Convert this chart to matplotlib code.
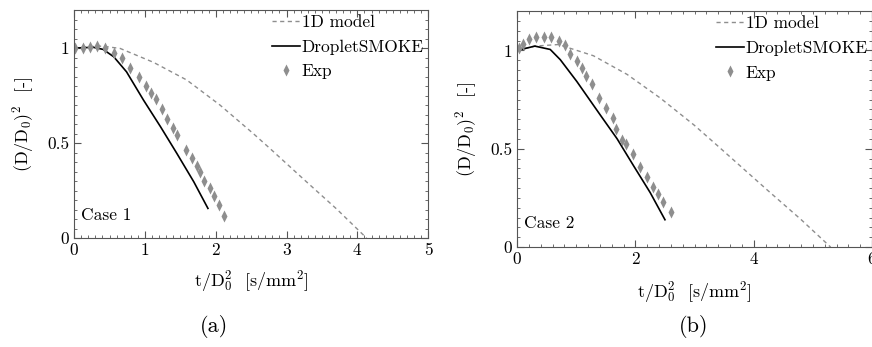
import matplotlib
matplotlib.use("Agg")
import matplotlib.pyplot as plt
from matplotlib.ticker import MultipleLocator, FormatStrFormatter

plt.rcParams['font.family'] = ['cmr10', 'DejaVu Serif']
plt.rcParams['mathtext.fontset'] = 'cm'
plt.rcParams['axes.formatter.use_mathtext'] = True

# ---- Case 1 ----
exp1_t = [0.01, 0.13, 0.23, 0.33, 0.43, 0.57, 0.68, 0.79, 0.91, 1.01, 1.08, 1.16, 1.24,
          1.31, 1.39, 1.46, 1.58, 1.67, 1.74, 1.78, 1.84, 1.92, 1.97, 2.05, 2.11]
exp1_d2 = [1.0, 1.0, 1.005, 1.01, 1.0, 0.972, 0.946, 0.897, 0.847, 0.80, 0.763, 0.73, 0.677,
           0.626, 0.581, 0.542, 0.462, 0.421, 0.381, 0.349, 0.30, 0.263, 0.221, 0.175, 0.116]
ds1_t = [0.0, 0.27, 0.41, 0.56, 0.74, 0.98, 1.22, 1.45, 1.69, 1.89]
ds1_d2 = [1.0, 1.004, 0.993, 0.954, 0.875, 0.726, 0.586, 0.446, 0.296, 0.156]
m1_t = [0.0, 0.2, 0.4, 0.65, 1.12, 1.59, 2.06, 2.53, 2.77, 3.24, 3.71, 4.13]
m1_d2 = [1.0, 1.008, 1.01, 0.998, 0.925, 0.832, 0.70, 0.55, 0.47, 0.31, 0.152, 0.0]

# ---- Case 2 ----
exp2_t = [0.04, 0.10, 0.20, 0.32, 0.45, 0.58, 0.70, 0.81, 0.90, 1.02, 1.09, 1.17, 1.26,
          1.38, 1.50, 1.62, 1.68, 1.78, 1.84, 1.96, 2.07, 2.20, 2.29, 2.38, 2.46, 2.61]
exp2_d2 = [1.01, 1.035, 1.058, 1.07, 1.07, 1.07, 1.048, 1.027, 0.981, 0.945, 0.912, 0.872, 0.831,
           0.757, 0.706, 0.655, 0.6, 0.547, 0.522, 0.472, 0.405, 0.355, 0.305, 0.271, 0.231, 0.176]
ds2_t = [0.0, 0.30, 0.56, 0.73, 1.01, 1.41, 1.69, 1.97, 2.25, 2.50]
ds2_d2 = [1.0, 1.022, 1.005, 0.953, 0.842, 0.67, 0.551, 0.413, 0.277, 0.139]
m2_t = [0.0, 0.3, 0.7, 1.29, 1.86, 2.42, 2.99, 3.39, 3.67, 4.23, 4.80, 5.30]
m2_d2 = [1.0, 1.022, 1.03, 0.973, 0.878, 0.758, 0.621, 0.515, 0.44, 0.29, 0.14, 0.0]

gray = '#8e8e8e'

fig = plt.figure(figsize=(8.72, 3.47), dpi=100)
ax1 = fig.add_axes([0.085, 0.314, 0.406, 0.657])
ax2 = fig.add_axes([0.593, 0.288, 0.407, 0.680])

panels = [
    (ax1, m1_t, m1_d2, ds1_t, ds1_d2, exp1_t, exp1_d2, 5, 1, 0.1, 'Case 1', 7),
    (ax2, m2_t, m2_d2, ds2_t, ds2_d2, exp2_t, exp2_d2, 6, 2, 0.2, 'Case 2', 9),
]

for ax, mt, md, dt, dd, et, ed, xmax, xmaj, xmin, case, xpad in panels:
    ax.plot(mt, md, '--', color=gray, lw=1.0, dashes=(3, 2.5), label='1D model')
    ax.plot(dt, dd, '-', color='black', lw=1.2, label='DropletSMOKE')
    ax.plot(et, ed, 'd', color=gray, ms=5.8, mec='none', label='Exp')
    ax.set_xlim(0, xmax)
    ax.set_ylim(0, 1.2)
    ax.xaxis.set_major_locator(MultipleLocator(xmaj))
    ax.xaxis.set_minor_locator(MultipleLocator(xmin))
    ax.yaxis.set_major_locator(MultipleLocator(0.5))
    ax.yaxis.set_minor_locator(MultipleLocator(0.05))
    ax.yaxis.set_major_formatter(FormatStrFormatter('%g'))
    ax.xaxis.set_major_formatter(FormatStrFormatter('%g'))
    ax.tick_params(which='both', direction='in', top=True, right=True, labelsize=12.5,
                   color='#555555')
    ax.tick_params(which='major', length=5)
    ax.tick_params(which='minor', length=2.5)
    for s in ax.spines.values():
        s.set_color('#555555')
        s.set_linewidth(0.8)
    ax.set_xlabel(r'$\mathrm{t/D_0^2}$  [s/mm$^2$]', fontsize=13, labelpad=xpad)
    ax.set_ylabel(r'$\mathrm{(D/D_0)^2}$  [-]', fontsize=13, labelpad=8)
    ax.text(0.02, 0.08, case, transform=ax.transAxes, fontsize=12.5)
    ax.legend(loc='upper right', frameon=False, fontsize=12.5, handlelength=1.6,
              handletextpad=0.1, labelspacing=0.55, borderaxespad=0.05,
              borderpad=0.2)

fig.text(0.245, 0.06, '(a)', fontsize=16, ha='center', va='center')
fig.text(0.795, 0.06, '(b)', fontsize=16, ha='center', va='center')

fig.savefig('out.png', dpi=100)
